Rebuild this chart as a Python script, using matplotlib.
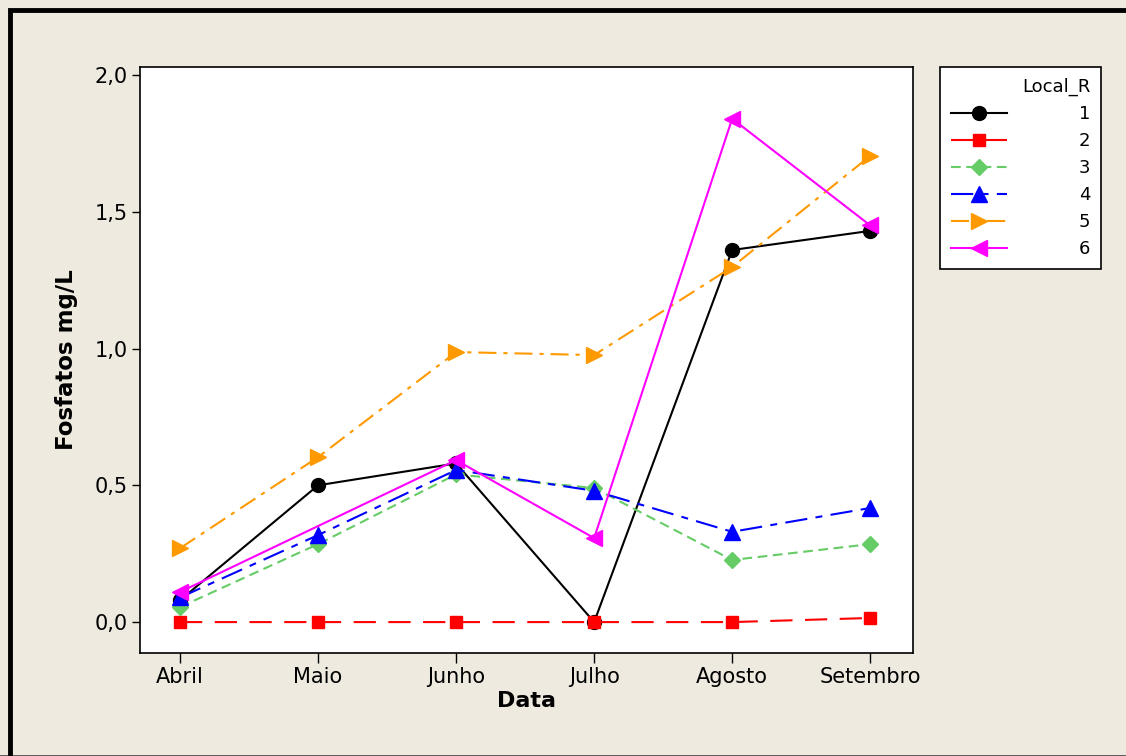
import numpy as np
import matplotlib
matplotlib.use("Agg")
import matplotlib.pyplot as plt
from matplotlib.patches import Rectangle
from matplotlib.lines import Line2D

months = ["Abril", "Maio", "Junho", "Julho", "Agosto", "Setembro"]
ytick_values = [0.0, 0.5, 1.0, 1.5, 2.0]
ytick_labels = ["0,0", "0,5", "1,0", "1,5", "2,0"]

local_1 = [0.08, 0.50, 0.58, 0.00, 1.36, 1.43]
local_2 = [0.00, 0.00, 0.00, 0.00, 0.00, 0.015]
local_3 = [0.055, 0.285, 0.54, 0.49, 0.227, 0.285]
local_4 = [0.09, 0.318, 0.556, 0.48, 0.33, 0.417]
local_5 = [0.27, 0.603, 0.987, 0.976, 1.298, 1.704]
local_6 = [0.11, np.nan, 0.592, 0.307, 1.84, 1.45]

series_labels = ["1", "2", "3", "4", "5", "6"]

plt.rcParams["font.family"] = ["DejaVu Sans"]
plt.rcParams["lines.scale_dashes"] = False

bg = "#EEEAE0"
W, H = 1126, 756
fig = plt.figure(figsize=(W / 100, H / 100), dpi=100, facecolor=bg)
ax = fig.add_axes([140 / W, 1 - 653 / H, (913 - 140) / W, (653 - 67) / H])
ax.set_facecolor("white")

x = np.arange(len(months))

styles = [
    dict(color="black", ls="-", marker="o", ms=10),
    dict(color="#FF0000", ls=(0, (16, 9)), marker="s", ms=9),
    dict(color="#66CC66", ls=(0, (7, 4)), marker="D", ms=8),
    dict(color="#0000FF", ls=(0, (16, 6, 5, 6)), marker="^", ms=11),
    dict(color="#FF9900", ls=(0, (13, 5, 3, 5)), marker=">", ms=11),
    dict(color="#FF00FF", ls="-", marker="<", ms=11),
]
data = [local_1, local_2, local_3, local_4, local_5, local_6]

handles = []
for vals, st, lab in zip(data, styles, series_labels):
    v = np.array(vals, dtype=float)
    ok = ~np.isnan(v)
    ax.plot(x[ok], v[ok], color=st["color"], ls=st["ls"], lw=1.5,
            marker=st["marker"], ms=st["ms"], mec=st["color"], mfc=st["color"])
    handles.append(Line2D([], [], color=st["color"], ls=st["ls"], lw=1.5,
                          marker=st["marker"], ms=st["ms"], mec=st["color"],
                          mfc=st["color"]))

ax.set_xlim(-0.29, 5.31)
ax.set_ylim(-0.113, 2.029)
ax.set_xticks(x)
ax.set_xticklabels(months, fontsize=15)
ax.set_yticks(ytick_values)
ax.set_yticklabels(ytick_labels, fontsize=15)
ax.tick_params(axis="both", direction="out", length=6, width=1, color="black", pad=3)
ax.tick_params(axis="x", length=7)
for sp in ax.spines.values():
    sp.set_linewidth(1.2)
    sp.set_color("black")

ax.set_xlabel("Data", fontsize=16, fontweight="bold", labelpad=3)
ax.set_ylabel("Fosfatos mg/L", fontsize=16.5, fontweight="bold", labelpad=12)

leg = fig.legend(handles, series_labels, title="Local_R",
                 loc="upper left", bbox_to_anchor=(940 / W, 1 - 67 / H),
                 frameon=True, fancybox=False, edgecolor="black",
                 facecolor="white", framealpha=1.0,
                 fontsize=13, title_fontsize=13,
                 handlelength=3.1, handletextpad=4.0, labelspacing=0.5,
                 borderpad=0.6, borderaxespad=0.0)
leg.get_frame().set_linewidth(1.2)
leg._legend_box.align = "right"

# outer frame of the figure
fig.patches.append(Rectangle((10 / W, -0.01), 1.05, 1 - 10 / H + 0.01,
                             transform=fig.transFigure, fill=False,
                             edgecolor="black", lw=3.5, zorder=10))
fig.add_artist(Line2D([0, 1], [0.5 / H, 0.5 / H], transform=fig.transFigure,
                      color="#444444", lw=1.2))

fig.savefig("out.png", dpi=100, facecolor=bg)
